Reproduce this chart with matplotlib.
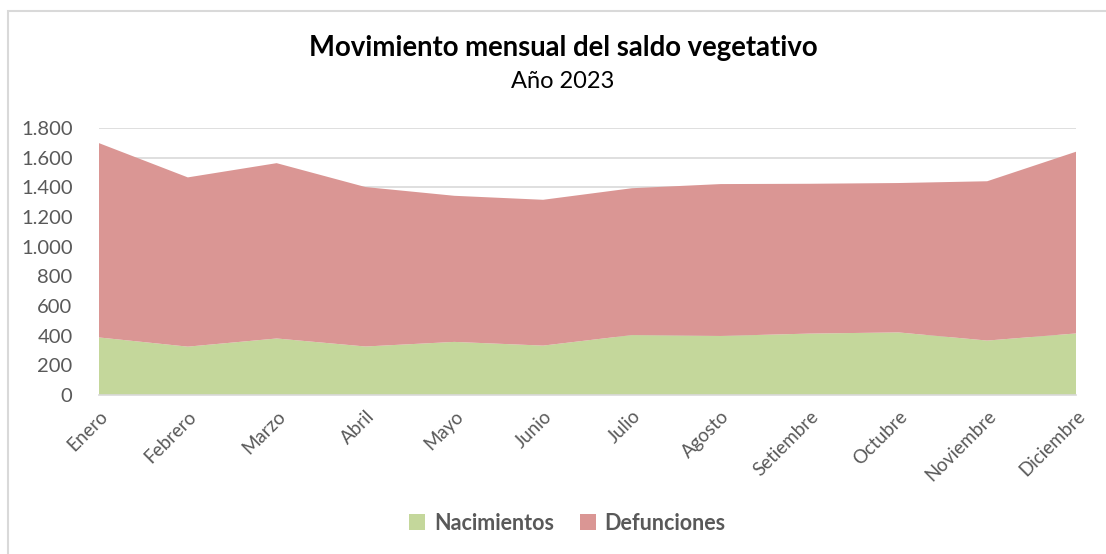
import matplotlib
matplotlib.use('Agg')
import matplotlib.pyplot as plt
import numpy as np
from matplotlib.patches import Rectangle

plt.rcParams['font.family'] = ['Lato', 'DejaVu Sans']

meses = ['Enero', 'Febrero', 'Marzo', 'Abril', 'Mayo', 'Junio', 'Julio',
         'Agosto', 'Setiembre', 'Octubre', 'Noviembre', 'Diciembre']
nacimientos = [388, 326, 381, 327, 358, 333, 404, 398, 414, 422, 367, 415]
defunciones = [1310, 1141, 1182, 1075, 985, 983, 990, 1024, 1010, 1007, 1074, 1225]

verde = '#C4D79B'
rojo = '#DA9694'
gris = '#595959'

fig = plt.figure(figsize=(11.06, 5.54), dpi=100)
fig.patches.append(Rectangle((8 / 1106, -0.01), 1.02, 1 - 11 / 554 + 0.01,
                             transform=fig.transFigure, fill=False,
                             edgecolor='#D9D9D9', linewidth=1.5))

ax = fig.add_axes([99 / 1106, 1 - 395 / 554, (1076 - 99) / 1106, (395 - 128) / 554])
x = np.arange(len(meses))
ax.stackplot(x, nacimientos, defunciones, colors=[verde, rojo],
             labels=['Nacimientos', 'Defunciones'], zorder=2)

ax.set_xlim(0, len(meses) - 1)
ax.set_ylim(0, 1800)
ax.set_yticks(np.arange(0, 1801, 200))
ax.set_yticklabels([f'{v:,}'.replace(',', '.') for v in range(0, 1801, 200)])
ax.grid(axis='y', color='#D9D9D9', linewidth=1.2, zorder=1)
ax.set_axisbelow(True)
for s in ['top', 'right', 'left']:
    ax.spines[s].set_visible(False)
ax.spines['bottom'].set_color('#D9D9D9')
ax.spines['bottom'].set_linewidth(1.2)
ax.spines['bottom'].set_zorder(3)
ax.tick_params(axis='both', length=0, colors=gris)
ax.tick_params(axis='y', pad=19, labelsize=14.5)
ax.set_xticks(x)
ax.set_xticklabels(meses, rotation=45, ha='right', va='top', rotation_mode='anchor')
ax.tick_params(axis='x', pad=9, labelsize=13.5)

fig.text(0.509, 1 - 48 / 554, 'Movimiento mensual del saldo vegetativo',
         ha='center', va='center', fontsize=19.8, fontweight='bold', color='black')
fig.text(0.509, 1 - 82 / 554, 'Año 2023', ha='center', va='center',
         fontsize=17, color='black')

leg = fig.legend(loc='center', bbox_to_anchor=(0.513, 1 - 523 / 554), ncol=2,
                 frameon=False, handlelength=0.75, handleheight=0.75,
                 columnspacing=1.2, handletextpad=0.4,
                 prop={'size': 15.5, 'weight': 'bold'})
for t in leg.get_texts():
    t.set_color(gris)

fig.savefig('out.png', dpi=100)
